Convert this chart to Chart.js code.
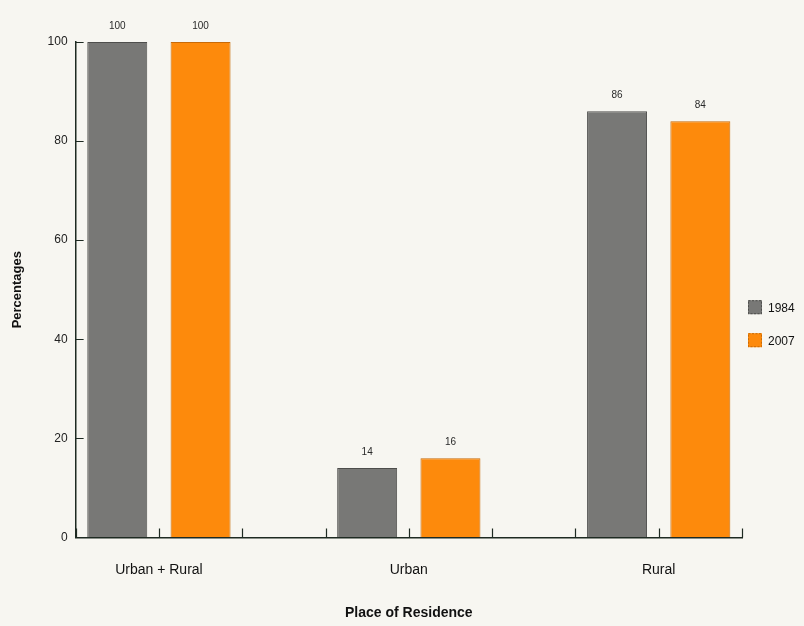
<!DOCTYPE html>
<html><head><meta charset="utf-8">
<script src="https://cdn.jsdelivr.net/npm/chart.js@4/dist/chart.umd.min.js"></script>
<style>html,body{margin:0;padding:0;background:#f7f6f1;}#wrap{width:804px;height:626px;position:relative;}</style>
</head><body><div id="wrap"><canvas id="c"></canvas></div>
<script>
const categories = ['Urban + Rural', 'Urban', 'Rural'];
const seriesNames = ['1984', '2007'];
const values1984 = [100, 14, 86];
const values2007 = [100, 16, 84];
const yTickValues = [0, 20, 40, 60, 80, 100];
const xAxisTitle = 'Place of Residence';
const yAxisTitle = 'Percentages';

const FONT = '"Liberation Sans", Arial, Helvetica, sans-serif';
const GRAY = '#787876', ORANGE = '#fd8a0c';

// slot boundaries: each category = 3 slots (gap, bar, bar) centered on the integer
const xTickValues = [];
xTickValues.push(-1/3);
categories.forEach((c, i) => { xTickValues.push(i, i + 1/3); if (i < categories.length - 1) xTickValues.push(i + 2/3); });
xTickValues.sort((a, b) => a - b);

const toPts = arr => arr.map((v, i) => ({x: i, y: v}));

const valueLabels = {
  id: 'valueLabels',
  afterDatasetsDraw(chart) {
    const ctx = chart.ctx;
    ctx.save();
    ctx.font = '10px ' + FONT;
    ctx.fillStyle = '#2a2a2a';
    ctx.textAlign = 'center';
    ctx.textBaseline = 'bottom';
    chart.data.datasets.forEach((ds, di) => {
      chart.getDatasetMeta(di).data.forEach((el, i) => {
        ctx.fillText(String(ds.data[i].y), el.x, el.y - 11);
      });
    });
    ctx.restore();
  }
};

const innerTicks = {
  id: 'innerTicks',
  afterDraw(chart) {
    const ctx = chart.ctx, xs = chart.scales.x, ys = chart.scales.y;
    ctx.save();
    ctx.strokeStyle = '#1e2a22';
    ctx.lineWidth = 1.2;
    ctx.beginPath();
    xTickValues.forEach(v => {
      const px = Math.round(xs.getPixelForValue(v)) + 0.5;
      ctx.moveTo(px, ys.bottom); ctx.lineTo(px, ys.bottom - 9);
    });
    yTickValues.forEach(v => {
      const py = Math.round(ys.getPixelForValue(v)) + 0.5;
      ctx.moveTo(xs.left, py); ctx.lineTo(xs.left + 8, py);
    });
    ctx.stroke();
    ctx.restore();
  }
};

const sideLegend = {
  id: 'sideLegend',
  afterDraw(chart) {
    const ctx = chart.ctx, ca = chart.chartArea;
    const x0 = ca.right + 6, yMid = (ca.top + ca.bottom) / 2;
    const step = 33;
    const n = chart.data.datasets.length;
    ctx.save();
    ctx.font = '12px ' + FONT;
    ctx.textBaseline = 'middle';
    ctx.textAlign = 'left';
    chart.data.datasets.forEach((ds, i) => {
      const cy = yMid - ((n - 1) * step) / 2 + i * step + 34;
      ctx.fillStyle = ds.backgroundColor;
      ctx.fillRect(x0, cy - 7, 14, 14);
      ctx.setLineDash([2, 1.5]);
      ctx.strokeStyle = ds.borderColor;
      ctx.lineWidth = 1;
      ctx.strokeRect(x0 + 0.5, cy - 6.5, 13, 13);
      ctx.setLineDash([]);
      ctx.fillStyle = '#111';
      ctx.fillText(ds.label, x0 + 20, cy + 1);
    });
    ctx.restore();
  }
};

new Chart(document.getElementById('c'), {
  type: 'bar',
  data: {
    datasets: [
      {label: seriesNames[0], data: toPts(values1984), backgroundColor: GRAY, borderColor: '#4e4e4c', borderWidth: 1},
      {label: seriesNames[1], data: toPts(values2007), backgroundColor: ORANGE, borderColor: '#c86a08', borderWidth: 1}
    ]
  },
  options: {
    responsive: true,
    maintainAspectRatio: false,
    animation: false,
    categoryPercentage: 2,
    barPercentage: 0.72,
    layout: {padding: {top: 42, left: 6, right: 62, bottom: 0}},
    plugins: {
      legend: {display: false},
      tooltip: {enabled: false}
    },
    scales: {
      x: {
        type: 'linear',
        offset: false,
        min: -1/3,
        max: categories.length - 2/3,
        afterBuildTicks: s => { s.ticks = xTickValues.map(v => ({value: v})); },
        grid: {display: true, drawOnChartArea: false, drawTicks: false, color: 'rgba(0,0,0,0)'},
        border: {display: true, color: '#1e2a22', width: 1.5},
        ticks: {
          autoSkip: false, maxRotation: 0, padding: 24, color: '#111',
          font: {family: FONT, size: 14},
          callback: v => {
            const r = Math.round(v);
            return Math.abs(v - r) < 1e-6 && categories[r] !== undefined ? categories[r] : '';
          }
        },
        title: {display: true, text: xAxisTitle, color: '#111', font: {family: FONT, size: 14, weight: 'bold'}, padding: {top: 3, bottom: 4}}
      },
      y: {
        min: 0, max: 100,
        afterBuildTicks: s => { s.ticks = yTickValues.map(v => ({value: v})); },
        grid: {display: true, drawOnChartArea: false, drawTicks: false, color: 'rgba(0,0,0,0)'},
        border: {display: true, color: '#1e2a22', width: 1.5},
        ticks: {padding: 8, color: '#222', font: {family: FONT, size: 12}},
        title: {display: true, text: yAxisTitle, color: '#111', font: {family: FONT, size: 13, weight: 'bold'}, padding: {bottom: 14}}
      }
    }
  },
  plugins: [valueLabels, innerTicks, sideLegend]
});
</script></body></html>
